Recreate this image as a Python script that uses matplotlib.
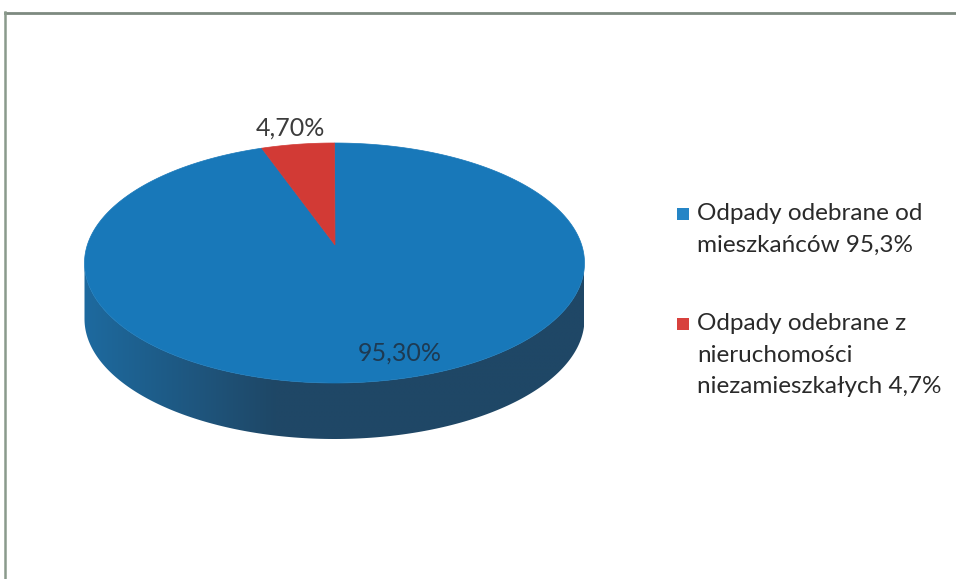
import numpy as np
import matplotlib
matplotlib.use("Agg")
import matplotlib.pyplot as plt
from matplotlib.patches import Polygon, Rectangle

# data
categories = ["Odpady odebrane od\nmieszkańców 95,3%",
              "Odpady odebrane z\nnieruchomości\nniezamieszkałych 4,7%"]
values = [95.3, 4.7]
value_labels = ["95,30%", "4,70%"]
colors = ["#1878b9", "#d23a35"]
legend_colors = ["#2585c6", "#d8413d"]

plt.rcParams['font.family'] = ['Lato', 'DejaVu Sans']

fig = plt.figure(figsize=(9.56, 5.79), dpi=100)
ax = fig.add_axes([0, 0, 1, 1])
ax.set_xlim(0, 956)
ax.set_ylim(579, 0)
ax.axis('off')

# geometry of the "3d" pie (pixels)
cx, cy = 334.5, 263
rx, ry = 250, 120
depth = 56
apex = (335, 245)


def ell(t):
    t = np.radians(t)
    return cx + rx * np.cos(t), cy - ry * np.sin(t)


# side of the cylinder: one polygon, shaded with a clipped gradient
ts = np.linspace(180, 360, 200)
xs, ys = ell(ts)
side_pts = list(zip(xs, ys)) + list(zip(xs[::-1], ys[::-1] + depth))
side = Polygon(side_pts, closed=True, facecolor='none', edgecolor='none')
ax.add_patch(side)
gx = np.linspace(0, 1, 300)
k = np.clip(gx * 2.6, 0, 1)
light = np.array([0x1d, 0x6a, 0x9f]) / 255
dark = np.array([0x1f, 0x47, 0x66]) / 255
grad = (light[None, :] * (1 - k[:, None]) + dark[None, :] * k[:, None])[None, :, :]
im = ax.imshow(grad, extent=(cx - rx, cx + rx, cy + ry + depth, cy - 5),
               aspect='auto', interpolation='bilinear', zorder=1)
im.set_clip_path(side)

# top face wedges, starting at 12 o'clock; the small slice goes counter-clockwise
fracs = np.array(values) / sum(values)
red_end = 90 + 360 * fracs[1]
angles = [(red_end, 450), (90, red_end)]
for (a0, a1), c in zip(angles, colors):
    t = np.linspace(a0, a1, 400)
    wx, wy = ell(t)
    pts = [apex] + list(zip(wx, wy))
    ax.add_patch(Polygon(pts, closed=True, facecolor=c, edgecolor=c, lw=0.5, zorder=2))

# value labels
ax.text(400, 353, value_labels[0], ha='center', va='center', fontsize=18, color='#1e3a52', zorder=3)
ax.text(290, 128, value_labels[1], ha='center', va='center', fontsize=18, color='#3c3c3c', zorder=3)

# legend
leg_y = [214, 324]
for c, lab, y in zip(legend_colors, categories, leg_y):
    ax.add_patch(Rectangle((677, y - 6), 12, 12, facecolor=c, edgecolor='none'))
    ax.text(697, y - 11, lab, ha='left', va='top', fontsize=17.5, color='#2a2a2a',
            linespacing=1.62)

# frame lines of the scanned chart
ax.plot([5, 956], [12.5, 12.5], color='#7d8a80', lw=2)
ax.plot([5.5, 5.5], [12, 579], color='#8a9a8c', lw=1.8)

fig.savefig("out.png", dpi=100)
